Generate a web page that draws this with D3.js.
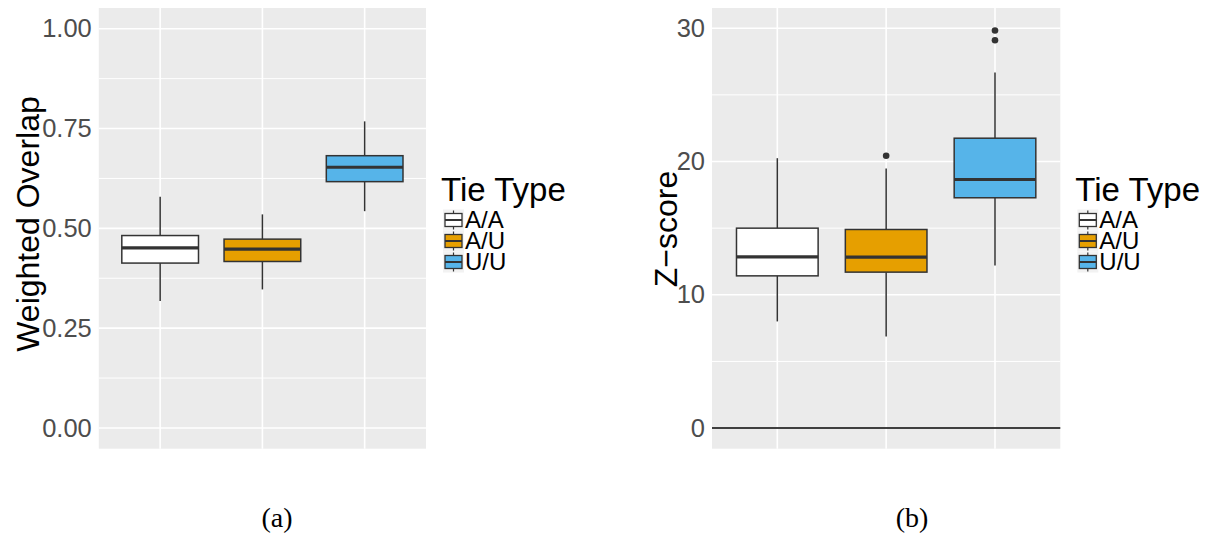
<!DOCTYPE html>
<html>
<head>
<meta charset="utf-8">
<script src="https://cdn.jsdelivr.net/npm/d3@7"></script>
<style>
    body { margin: 0; background: #fff; }
    svg { display: block; font-family: "Liberation Sans", Arial, sans-serif; }
</style>
</head>
<body>
<div id="chart"></div>
<script>
// tie types + fill colours
const tieTypes = ['A/A', 'A/U', 'U/U'];
const tieColors = ['#FFFFFF', '#E69F00', '#56B4E9'];

// panel (a): weighted overlap box stats
const overlapLow = [0.318, 0.347, 0.543];
const overlapQ1 = [0.413, 0.417, 0.617];
const overlapMedian = [0.451, 0.448, 0.653];
const overlapQ3 = [0.482, 0.473, 0.682];
const overlapHigh = [0.579, 0.535, 0.768];
const overlapOutliers = [[], [], []];
const overlapTicks = [0, 0.25, 0.5, 0.75, 1];
const overlapMinor = [0.125, 0.375, 0.625, 0.875];

// panel (b): z-score box stats
const zLow = [8.0, 6.87, 12.2];
const zQ1 = [11.42, 11.7, 17.28];
const zMedian = [12.85, 12.83, 18.65];
const zQ3 = [15.0, 14.9, 21.75];
const zHigh = [20.25, 19.47, 26.68];
const zOutliers = [[], [20.43], [29.1, 29.83]];
const zTicks = [0, 10, 20, 30];
const zMinor = [5, 15, 25];

const width = 1213, height = 542;
const svg = d3.select('#chart').append('svg')
    .attr('width', width)
    .attr('height', height);

function drawPanel(opts) {
    const g = svg.append('g');
    const stats = tieTypes.map((t, i) => ({
        type: t, color: tieColors[i],
        low: opts.low[i], q1: opts.q1[i], med: opts.median[i], q3: opts.q3[i], high: opts.high[i],
        outliers: opts.outliers[i]
    }));

    const x = d3.scalePoint()
        .domain(tieTypes)
        .range([opts.left, opts.right])
        .padding(0.6);
    const y = d3.scaleLinear()
        .domain(opts.domain)
        .range([448.7, 8]);
    const boxW = x.step() * 0.75;

    // panel background
    g.append('rect')
        .attr('x', opts.left).attr('y', 8)
        .attr('width', opts.right - opts.left)
        .attr('height', 440.7)
        .attr('fill', '#EBEBEB');

    // grid
    g.selectAll('.minor').data(opts.minor).enter().append('line')
        .attr('x1', opts.left).attr('x2', opts.right)
        .attr('y1', d => y(d)).attr('y2', d => y(d))
        .attr('stroke', '#fff').attr('stroke-width', 1);
    g.selectAll('.major').data(opts.ticks).enter().append('line')
        .attr('x1', opts.left).attr('x2', opts.right)
        .attr('y1', d => y(d)).attr('y2', d => y(d))
        .attr('stroke', '#fff').attr('stroke-width', 1.6);
    g.selectAll('.vgrid').data(tieTypes).enter().append('line')
        .attr('x1', d => x(d)).attr('x2', d => x(d))
        .attr('y1', 8).attr('y2', 448.7)
        .attr('stroke', '#fff').attr('stroke-width', 1.6);

    if (opts.zeroLine) {
        g.append('line')
            .attr('x1', opts.left).attr('x2', opts.right)
            .attr('y1', y(0)).attr('y2', y(0))
            .attr('stroke', '#000').attr('stroke-width', 1.6);
    }

    // y axis (labels only, no ticks)
    const yAxis = g.append('g')
        .attr('transform', `translate(${opts.left}, 0)`)
        .call(d3.axisLeft(y).tickValues(opts.ticks).tickFormat(opts.format).tickSize(0).tickPadding(7));
    yAxis.select('.domain').remove();
    yAxis.selectAll('text')
        .attr('fill', '#4D4D4D')
        .style('font-size', '25.5px')
        .style('font-family', '"Liberation Sans", Arial, sans-serif');

    g.append('text')
        .attr('transform', `translate(${opts.titleX}, ${opts.titleY}) rotate(-90)`)
        .attr('text-anchor', 'middle')
        .style('font-size', '32px')
        .attr('fill', '#000')
        .text(opts.title);

    // boxes
    const box = g.selectAll('.box').data(stats).enter().append('g')
        .attr('class', 'box');
    box.append('line')
        .attr('x1', d => x(d.type)).attr('x2', d => x(d.type))
        .attr('y1', d => y(d.high)).attr('y2', d => y(d.q3))
        .attr('stroke', '#333').attr('stroke-width', 1.5);
    box.append('line')
        .attr('x1', d => x(d.type)).attr('x2', d => x(d.type))
        .attr('y1', d => y(d.q1)).attr('y2', d => y(d.low))
        .attr('stroke', '#333').attr('stroke-width', 1.5);
    box.append('rect')
        .attr('x', d => x(d.type) - boxW / 2)
        .attr('y', d => y(d.q3))
        .attr('width', boxW)
        .attr('height', d => y(d.q1) - y(d.q3))
        .attr('fill', d => d.color)
        .attr('stroke', '#333').attr('stroke-width', 1.5);
    box.append('line')
        .attr('x1', d => x(d.type) - boxW / 2).attr('x2', d => x(d.type) + boxW / 2)
        .attr('y1', d => y(d.med)).attr('y2', d => y(d.med))
        .attr('stroke', '#333').attr('stroke-width', 3.2);
    box.selectAll('circle')
        .data(d => d.outliers.map(v => ({ type: d.type, v })))
        .enter().append('circle')
        .attr('cx', d => x(d.type)).attr('cy', d => y(d.v))
        .attr('r', 3.3)
        .attr('fill', '#333');

    // legend
    const lx = opts.right + 17;
    const leg = g.append('g').attr('transform', `translate(${lx}, 0)`);
    leg.append('text')
        .attr('x', -2).attr('y', 201)
        .style('font-size', '33px')
        .text('Tie Type');
    const key = leg.selectAll('.key').data(stats).enter().append('g')
        .attr('transform', (d, i) => `translate(0, ${209.5 + i * 21})`);
    key.append('rect')
        .attr('width', 21).attr('height', 21)
        .attr('fill', '#F2F2F2');
    key.append('line')
        .attr('x1', 10.5).attr('x2', 10.5).attr('y1', 1).attr('y2', 20)
        .attr('stroke', '#333').attr('stroke-width', 1.2);
    key.append('rect')
        .attr('x', 2).attr('y', 4).attr('width', 17).attr('height', 13)
        .attr('fill', d => d.color)
        .attr('stroke', '#333').attr('stroke-width', 1.3);
    key.append('line')
        .attr('x1', 2).attr('x2', 19).attr('y1', 10.5).attr('y2', 10.5)
        .attr('stroke', '#333').attr('stroke-width', 2);
    key.append('text')
        .attr('x', 22).attr('y', 18.5)
        .style('font-size', '24px')
        .text(d => d.type);

    // sub caption
    svg.append('text')
        .attr('x', opts.captionX).attr('y', 527)
        .attr('text-anchor', 'middle')
        .style('font-family', '"Liberation Serif", "DejaVu Serif", serif')
        .style('font-size', '28px')
        .text(opts.caption);
}

drawPanel({
    left: 98.8, right: 426, domain: [-0.052, 1.052],
    low: overlapLow, q1: overlapQ1, median: overlapMedian, q3: overlapQ3, high: overlapHigh,
    outliers: overlapOutliers, ticks: overlapTicks, minor: overlapMinor,
    format: d3.format('.2f'), title: 'Weighted Overlap', titleX: 39, titleY: 224,
    caption: '(a)', captionX: 277
});

drawPanel({
    left: 712, right: 1060.3, domain: [-1.55, 31.52],
    low: zLow, q1: zQ1, median: zMedian, q3: zQ3, high: zHigh,
    outliers: zOutliers, ticks: zTicks, minor: zMinor,
    format: d3.format('d'), title: 'Z\u2212score', titleX: 677, titleY: 229,
    zeroLine: true, caption: '(b)', captionX: 912
});
</script>
</body>
</html>
